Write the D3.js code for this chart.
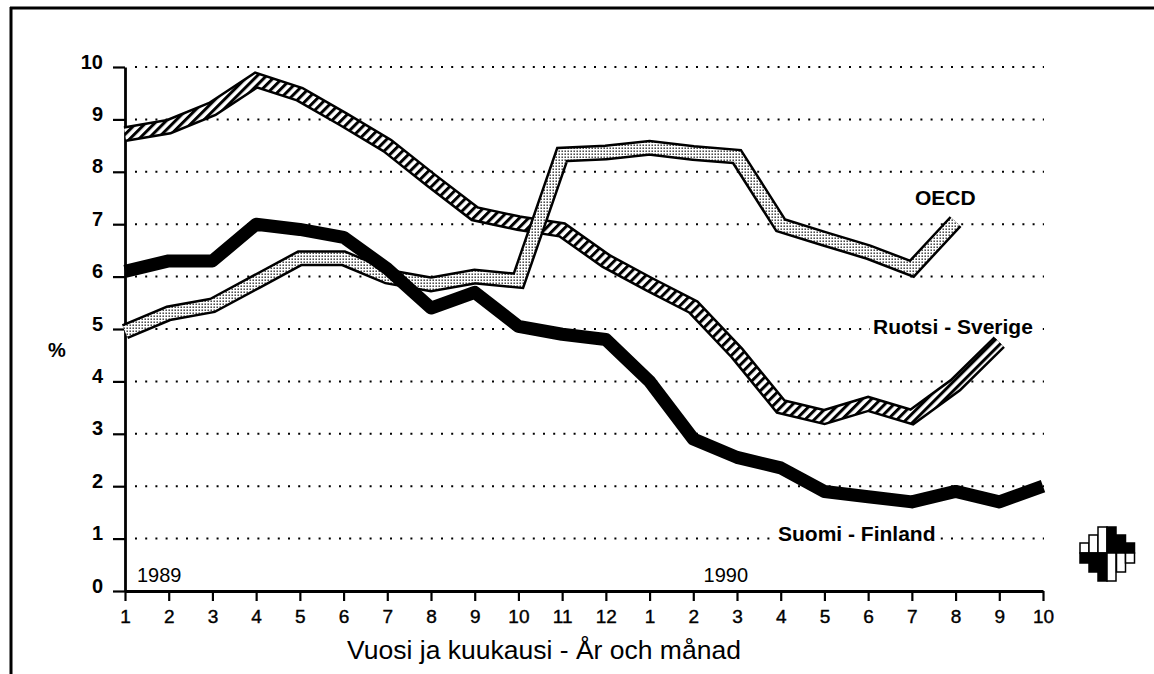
<!DOCTYPE html>
<html>
<head>
<meta charset="utf-8">
<script src="https://cdn.jsdelivr.net/npm/d3@7"></script>
<style>
  html, body { margin: 0; padding: 0; background: #fff; }
  svg { display: block; font-family: "Liberation Sans", Arial, Helvetica, sans-serif; }
</style>
</head>
<body>
<svg id="chart" width="1154" height="674"></svg>
<script>
// ---- data ----
const monthLabels = ["1","2","3","4","5","6","7","8","9","10","11","12","1","2","3","4","5","6","7","8","9","10"];
const yearLabels = ["1989", "1990"];
const yTicks = [0,1,2,3,4,5,6,7,8,9,10];
const finland = [6.1,6.3,6.3,7.0,6.9,6.75,6.15,5.4,5.7,5.05,4.9,4.8,4.0,2.9,2.55,2.35,1.9,1.8,1.7,1.9,1.7,2.0];
const oecd    = [4.95,5.3,5.45,5.9,6.35,6.35,6.0,5.85,6.0,5.92,8.33,8.37,8.46,8.36,8.29,6.98,6.72,6.47,6.15,7.05];
const sweden  = [8.72,8.86,9.2,9.75,9.48,9.0,8.5,7.84,7.2,7.02,6.89,6.3,5.85,5.42,4.54,3.52,3.32,3.57,3.32,3.93,4.75];
const seriesNames = ["Suomi - Finland", "OECD", "Ruotsi - Sverige"];
const xTitle = "Vuosi ja kuukausi - År och månad";
const yTitle = "%";

const svg = d3.select("#chart");
const x = d3.scaleLinear().domain([0, 21]).range([125, 1043]);
const y = d3.scaleLinear().domain([0, 10]).range([591, 67]);

// patterns
const defs = svg.append("defs");
const hatch = defs.append("pattern").attr("id", "hatch")
  .attr("patternUnits", "userSpaceOnUse").attr("width", 6.5).attr("height", 6.5)
  .attr("patternTransform", "rotate(45)");
hatch.append("rect").attr("width", 6.5).attr("height", 6.5).attr("fill", "#fff");
hatch.append("rect").attr("x", 0).attr("y", 0).attr("width", 3).attr("height", 6.5).attr("fill", "#000");

const dots = defs.append("pattern").attr("id", "dots")
  .attr("patternUnits", "userSpaceOnUse").attr("width", 3).attr("height", 3);
dots.append("rect").attr("width", 3).attr("height", 3).attr("fill", "#fff");
dots.append("rect").attr("x", 0.5).attr("y", 0.5).attr("width", 1.4).attr("height", 1.4).attr("fill", "#222");

// frame
svg.append("line").attr("x1", 10).attr("x2", 1154).attr("y1", 8).attr("y2", 8)
  .attr("stroke", "#000").attr("stroke-width", 3);
svg.append("line").attr("x1", 11).attr("x2", 11).attr("y1", 7).attr("y2", 674)
  .attr("stroke", "#000").attr("stroke-width", 3);

// dotted gridlines
svg.append("g").selectAll("line").data(yTicks.filter(d => d > 0)).join("line")
  .attr("x1", 135).attr("x2", x(21) + 1)
  .attr("y1", d => y(d)).attr("y2", d => y(d))
  .attr("stroke", "#000").attr("stroke-width", 2)
  .attr("stroke-dasharray", "2 8.2");

// axes
const yAxis = svg.append("g").attr("transform", `translate(${x(0)},0)`)
  .call(d3.axisLeft(y).tickValues(yTicks).tickSize(12).tickSizeOuter(0).tickPadding(10));
yAxis.attr("font-family", null);
yAxis.select(".domain").attr("stroke-width", 2.8);
yAxis.selectAll(".tick line").attr("stroke-width", 2.2);
yAxis.selectAll("text").attr("font-size", 20).attr("font-weight", "bold").attr("dy", "0.05em").attr("fill", "#000");

const xAxis = svg.append("g").attr("transform", `translate(0,${y(0)})`)
  .call(d3.axisBottom(x).tickValues(d3.range(0, 22)).tickFormat(i => monthLabels[i])
    .tickSize(10).tickSizeOuter(0).tickPadding(9));
xAxis.attr("font-family", null);
xAxis.select(".domain").attr("stroke-width", 2.8);
xAxis.selectAll(".tick line").attr("stroke-width", 2.2);
xAxis.selectAll("text").attr("font-size", 19).attr("fill", "#000")
  .attr("stroke", "#000").attr("stroke-width", 0.4);

// year labels
svg.append("text").attr("x", x(0) + 12).attr("y", 582).attr("font-size", 20).text(yearLabels[0]);
svg.append("text").attr("x", x(12) + 54).attr("y", 582).attr("font-size", 20).text(yearLabels[1]);

// titles
svg.append("text").attr("x", 544).attr("y", 659).attr("text-anchor", "middle")
  .attr("font-size", 26.5).text(xTitle);
svg.append("text").attr("x", 57).attr("y", 357).attr("text-anchor", "middle")
  .attr("font-size", 20).attr("font-weight", "bold").text(yTitle);

// lines
const line = d3.line().x((d, i) => x(i)).y(d => y(d));
function band(data, outer, inner, fill) {
  svg.append("path").datum(data).attr("d", line).attr("fill", "none")
    .attr("stroke", "#000").attr("stroke-width", outer).attr("stroke-linejoin", "miter");
  svg.append("path").datum(data).attr("d", line).attr("fill", "none")
    .attr("stroke", fill).attr("stroke-width", inner).attr("stroke-linejoin", "miter");
}
band(sweden, 16, 11, "url(#hatch)");
band(oecd, 16, 11, "url(#dots)");
svg.append("path").datum(finland).attr("d", line).attr("fill", "none")
  .attr("stroke", "#000").attr("stroke-width", 13).attr("stroke-linejoin", "round");

// series labels
function label(txt, cx, baseline, knock) {
  const t = svg.append("text").attr("x", cx).attr("y", baseline)
    .attr("font-size", 21).attr("font-weight", "bold").text(txt);
  if (knock) {
    const b = t.node().getBBox();
    svg.insert("rect", () => t.node()).attr("x", b.x - 3).attr("y", b.y + 2)
      .attr("width", b.width + 6).attr("height", b.height - 4).attr("fill", "#fff");
  }
}
label(seriesNames[1], 915, 205, false);
label(seriesNames[2], 873, 334, true);
label(seriesNames[0], 778, 541, true);

// logo (decorative mark)
const logoCols = [
  {x: 1080, top: 543, bot: 563, upBlack: false},
  {x: 1089, top: 535, bot: 572, upBlack: false},
  {x: 1098, top: 527, bot: 581, upBlack: false},
  {x: 1107, top: 527, bot: 581, upBlack: true},
  {x: 1116.5, top: 535, bot: 572, upBlack: true},
  {x: 1125.5, top: 543, bot: 563, upBlack: true}
];
const mid = 553;
const lg = svg.append("g");
logoCols.forEach(c => {
  lg.append("rect").attr("x", c.x).attr("y", c.top).attr("width", 9).attr("height", mid - c.top)
    .attr("fill", c.upBlack ? "#000" : "#fff").attr("stroke", "#000").attr("stroke-width", 1.5);
  lg.append("rect").attr("x", c.x).attr("y", mid).attr("width", 9).attr("height", c.bot - mid)
    .attr("fill", c.upBlack ? "#fff" : "#000").attr("stroke", "#000").attr("stroke-width", 1.5);
});
</script>
</body>
</html>
